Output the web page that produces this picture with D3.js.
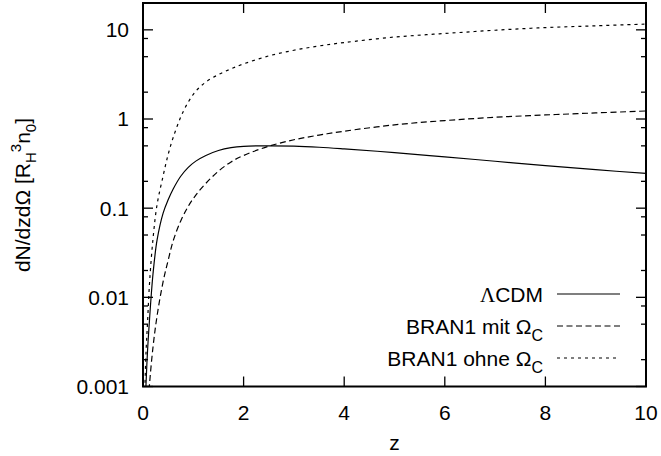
<!DOCTYPE html>
<html>
<head>
<meta charset="utf-8">
<script src="https://cdn.jsdelivr.net/npm/d3@7"></script>
<style>
  html, body { margin: 0; padding: 0; background: #fff; }
  svg { display: block; }
  text { font-family: "Liberation Sans", Arial, Helvetica, sans-serif; fill: #000; }
</style>
</head>
<body>
<svg id="chart" width="661" height="456"></svg>
<script>
// Redshift grid shared by all three curves
const zValues = [0.04, 0.06, 0.09, 0.13, 0.2, 0.28, 0.4, 0.5, 0.6, 0.75, 0.9, 1.05, 1.25,
                 1.5, 1.75, 2, 2.5, 3, 3.5, 4, 5, 6, 7, 8, 9, 10];

// dN/dz dΩ in units of R_H^3 n_0
const lcdm = [0.0005, 0.00107, 0.0025, 0.0057, 0.0186, 0.044, 0.088, 0.124, 0.164, 0.228, 0.287,
              0.337, 0.39, 0.443, 0.477, 0.494, 0.50, 0.496, 0.482, 0.462, 0.42, 0.376, 0.336,
              0.30, 0.27, 0.245];
const bran1Mit = [0.0001, 0.0002, 0.0005, 0.00107, 0.0028, 0.0062, 0.015, 0.026, 0.043, 0.072,
                  0.105, 0.14, 0.19, 0.26, 0.33, 0.39, 0.495, 0.585, 0.66, 0.73, 0.86, 0.96,
                  1.045, 1.11, 1.17, 1.23];
const bran1Ohne = [0.0011, 0.0024, 0.0052, 0.0145, 0.046, 0.11, 0.23, 0.40, 0.62, 1.05, 1.55,
                   2.05, 2.6, 3.15, 3.65, 4.15, 5.1, 5.9, 6.6, 7.2, 8.3, 9.1, 9.9, 10.6, 11.1, 11.6];

// Axis ticks
const xTicks = [0, 2, 4, 6, 8, 10];
const yTicks = [0.001, 0.01, 0.1, 1, 10];
const yTickLabels = ["0.001", "0.01", "0.1", "1", "10"];
const yMinorFactors = [2, 5, 8];

const series = [
  { name: "ΛCDM", values: lcdm, dash: null },
  { name: "BRAN1 mit Ω", sub: "C", values: bran1Mit, dash: "6,3.5" },
  { name: "BRAN1 ohne Ω", sub: "C", values: bran1Ohne, dash: "3,4" }
];

const svg = d3.select("#chart");
const plotL = 143, plotR = 646, plotT = 3, plotB = 386.5;

const x = d3.scaleLinear().domain([0, 10]).range([plotL, plotR]);
const y = d3.scaleLog().domain([0.001, 20]).range([plotB, plotT]);

svg.append("defs").append("clipPath").attr("id", "plotClip")
  .append("rect").attr("x", plotL).attr("y", plotT)
  .attr("width", plotR - plotL).attr("height", plotB - plotT);

// Curves
const line = d3.line()
  .x((d, i) => x(zValues[i]))
  .y(d => y(d))
  .curve(d3.curveCatmullRom.alpha(0.5));

const curves = svg.append("g").attr("clip-path", "url(#plotClip)");
series.forEach(s => {
  curves.append("path")
    .attr("d", line(s.values))
    .attr("fill", "none")
    .attr("stroke", "#000")
    .attr("stroke-width", 1.2)
    .attr("stroke-dasharray", s.dash);
});

// Ticks (mirrored on all four sides)
const tickG = svg.append("g").attr("stroke", "#000").attr("stroke-width", 1.3);
const majorLen = 10, minorLen = 5;
xTicks.forEach(t => {
  tickG.append("line").attr("x1", x(t)).attr("x2", x(t)).attr("y1", plotB).attr("y2", plotB - majorLen);
  tickG.append("line").attr("x1", x(t)).attr("x2", x(t)).attr("y1", plotT).attr("y2", plotT + majorLen);
});
yTicks.forEach(t => {
  tickG.append("line").attr("x1", plotL).attr("x2", plotL + majorLen).attr("y1", y(t)).attr("y2", y(t));
  tickG.append("line").attr("x1", plotR).attr("x2", plotR - majorLen).attr("y1", y(t)).attr("y2", y(t));
});
const minor = [];
[0.001, 0.01, 0.1, 1, 10].forEach(dec => yMinorFactors.forEach(f => {
  const v = dec * f;
  if (v < 20) minor.push(v);
}));
minor.forEach(t => {
  tickG.append("line").attr("x1", plotL).attr("x2", plotL + minorLen).attr("y1", y(t)).attr("y2", y(t));
  tickG.append("line").attr("x1", plotR).attr("x2", plotR - minorLen).attr("y1", y(t)).attr("y2", y(t));
});

// Frame
svg.append("rect")
  .attr("x", plotL).attr("y", plotT)
  .attr("width", plotR - plotL).attr("height", plotB - plotT)
  .attr("fill", "none").attr("stroke", "#000").attr("stroke-width", 2);

// Tick labels
const fs = 21;
svg.append("g").selectAll("text").data(xTicks).join("text")
  .attr("x", d => x(d)).attr("y", 420)
  .attr("text-anchor", "middle").attr("font-size", fs)
  .text(d => d);
svg.append("g").selectAll("text").data(yTicks).join("text")
  .attr("x", 129).attr("y", d => y(d)).attr("dy", "0.35em")
  .attr("text-anchor", "end").attr("font-size", fs)
  .text((d, i) => yTickLabels[i]);

// Axis titles
svg.append("text").attr("x", (plotL + plotR) / 2).attr("y", 450)
  .attr("text-anchor", "middle").attr("font-size", fs).text("z");

const yl = svg.append("text")
  .attr("transform", "translate(30,195) rotate(-90)")
  .attr("text-anchor", "middle").attr("font-size", fs);
yl.append("tspan").text("dN/dzdΩ [R");
yl.append("tspan").attr("font-size", 15).attr("dy", 6).text("H");
yl.append("tspan").attr("font-size", 15).attr("dy", -15).text("3");
yl.append("tspan").attr("dy", 9).text("n");
yl.append("tspan").attr("font-size", 15).attr("dy", 6).text("0");
yl.append("tspan").attr("dy", -6).text("]");

// Legend
const legendRows = [302, 334, 366];
series.forEach((s, i) => {
  const by = legendRows[i];
  const t = svg.append("text").attr("x", 543).attr("y", by)
    .attr("text-anchor", "end").attr("font-size", fs);
  if (s.sub) {
    t.append("tspan").text(s.name);
    t.append("tspan").attr("font-size", 16).attr("dy", 7).text(s.sub);
  } else {
    t.append("tspan").attr("font-family", "'Liberation Serif', serif").text(s.name.slice(0, 1));
    t.append("tspan").text(s.name.slice(1));
  }
  svg.append("line")
    .attr("x1", 557).attr("x2", 620).attr("y1", by - 8).attr("y2", by - 8)
    .attr("stroke", "#000").attr("stroke-width", 1.2)
    .attr("stroke-dasharray", s.dash);
});
</script>
</body>
</html>
